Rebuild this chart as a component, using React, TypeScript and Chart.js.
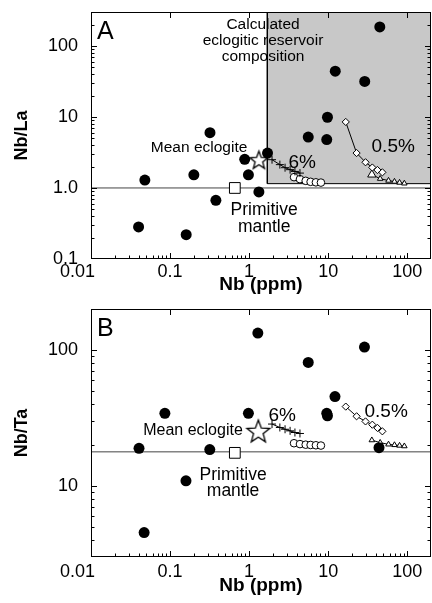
import React, { useEffect, useRef } from 'react';
import { Chart, registerables } from 'chart.js';

Chart.register(...registerables);

const FONT = "'Liberation Sans', Arial, Helvetica, sans-serif";

// Axis ranges and tick labels
const X_MIN = 0.01;
const X_MAX = 200;
const X_TICK_LABELS = ['0.01', '0.1', '1', '10', '100'];
const A_Y_MIN = 0.1;
const A_Y_MAX = 300;
const A_TICK_LABELS = ['0.1', '1.0', '10', '100'];
const B_Y_MIN = 3;
const B_Y_MAX = 200;
const B_TICK_LABELS = ['10', '100'];

// Panel A: Nb vs Nb/La
const A_SAMPLE_NB = [45, 12.3, 29, 9.8, 5.6, 9.6, 0.32, 1.71, 0.88, 0.98, 0.2, 0.048, 0.04, 0.16, 0.38, 1.33];
const A_SAMPLE_RATIO = [185, 44, 31.6, 9.9, 5.2, 4.8, 6.0, 3.1, 2.53, 1.53, 1.53, 1.29, 0.283, 0.22, 0.67, 0.88];
const A_ECLOGITE_NB = [1.33];
const A_ECLOGITE_RATIO = [2.5];
const A_PM_NB = [0.66];
const A_PM_RATIO = [1.0];
const A_PM_LINE = [1.0];
const A_6_CROSS_NB = [1.95, 2.45, 2.85, 3.3, 3.8, 4.4];
const A_6_CROSS_RATIO = [2.5, 2.13, 1.93, 1.81, 1.71, 1.62];
const A_6_CIRC_NB = [3.7, 4.4, 5.2, 6.0, 7.0, 8.1];
const A_6_CIRC_RATIO = [1.42, 1.33, 1.26, 1.22, 1.2, 1.19];
const A_05_DIAM_NB = [16.7, 22.9, 29.7, 36.2, 42, 48.5];
const A_05_DIAM_RATIO = [8.5, 3.1, 2.3, 1.94, 1.79, 1.66];
const A_05_TRI_NB = [35.7, 45.5, 58, 69, 80, 92];
const A_05_TRI_RATIO = [1.54, 1.35, 1.27, 1.23, 1.19, 1.16];
const A_BOX_NB = [1.7, 200];
const A_BOX_RATIO = [1.15, 300];

// Panel B: Nb vs Nb/Ta
const B_SAMPLE_NB = [1.29, 28.8, 5.6, 12.2, 9.6, 9.8, 0.98, 0.086, 0.0405, 0.318, 0.159, 0.047, 44];
const B_SAMPLE_RATIO = [133, 105, 81, 45.4, 34.2, 32.8, 34.2, 34.2, 18.9, 18.5, 10.9, 4.54, 19.1];
const B_ECLOGITE_NB = [1.31];
const B_ECLOGITE_RATIO = [25.4];
const B_PM_NB = [0.66];
const B_PM_RATIO = [17.5];
const B_PM_LINE = [17.8];
const B_6_CROSS_NB = [1.95, 2.45, 2.85, 3.3, 3.8, 4.4];
const B_6_CROSS_RATIO = [28.5, 26.9, 26.1, 25.4, 24.7, 24.3];
const B_6_CIRC_NB = [3.7, 4.4, 5.2, 6.0, 7.0, 8.1];
const B_6_CIRC_RATIO = [20.6, 20.3, 20.1, 20.0, 19.9, 19.8];
const B_05_DIAM_NB = [16.7, 22.9, 29.7, 36.2, 42, 48.5];
const B_05_DIAM_RATIO = [38.3, 32.5, 29.8, 28.2, 26.7, 25.2];
const B_05_TRI_NB = [35.7, 45.5, 58, 69, 80, 92];
const B_05_TRI_RATIO = [21.7, 20.8, 20.2, 20.0, 19.8, 19.6];

const zip = (xs: number[], ys: number[]) => xs.map((x, i) => ({ x, y: ys[i] }));

function makeStar(outer: number) {
  const inner = outer * 0.42;
  const size = Math.ceil(outer * 2 + 4);
  const c = document.createElement('canvas');
  c.width = size;
  c.height = size;
  const ctx = c.getContext('2d')!;
  const cx = size / 2;
  const cy = size / 2 + outer * 0.1;
  ctx.beginPath();
  for (let i = 0; i < 10; i++) {
    const r = i % 2 === 0 ? outer : inner;
    const a = -Math.PI / 2 + (i * Math.PI) / 5;
    const px = cx + r * Math.cos(a);
    const py = cy + r * Math.sin(a);
    if (i === 0) ctx.moveTo(px, py);
    else ctx.lineTo(px, py);
  }
  ctx.closePath();
  ctx.fillStyle = '#fff';
  ctx.fill();
  ctx.lineWidth = 1.3;
  ctx.strokeStyle = '#000';
  ctx.stroke();
  return c;
}

function labelFor(value: number, labels: string[]) {
  for (const l of labels) {
    const v = parseFloat(l);
    if (Math.abs(value - v) / v < 1e-6) return l === '0.01' ? '0.01\u2002\u2002\u2002' : l;
  }
  return '';
}

const framePlugin = {
  id: 'frameTicks',
  afterDatasetsDraw(chart: any) {
    const { ctx, chartArea } = chart;
    const { left, right, top, bottom } = chartArea;
    ctx.save();
    ctx.strokeStyle = '#000';
    ctx.lineWidth = 1;
    ctx.strokeRect(Math.round(left) + 0.5, Math.round(top) + 0.5, Math.round(right - left) - 1, Math.round(bottom - top) - 1);
    const drawScaleTicks = (scale: any, horizontal: boolean) => {
      for (const t of scale.ticks) {
        const v = t.value;
        if (v <= scale.min * (1 + 1e-9) || v >= scale.max * (1 - 1e-9)) continue;
        const e = Math.floor(Math.log10(v) + 1e-9);
        const m = v / Math.pow(10, e);
        if (Math.abs(m - Math.round(m)) > 1e-6) continue;
        const major = Math.round(m) === 1;
        const len = major ? 6 : 3.5;
        const p = Math.round(scale.getPixelForValue(v)) + 0.5;
        ctx.beginPath();
        if (horizontal) {
          ctx.moveTo(p, bottom);
          ctx.lineTo(p, bottom - len);
          if (major) {
            ctx.moveTo(p, top);
            ctx.lineTo(p, top + len);
          }
        } else {
          ctx.moveTo(left, p);
          ctx.lineTo(left + len, p);
          ctx.moveTo(right, p);
          ctx.lineTo(right - len, p);
        }
        ctx.stroke();
      }
    };
    drawScaleTicks(chart.scales.x, true);
    drawScaleTicks(chart.scales.y, false);
    ctx.restore();
  },
};

const notesPlugin = {
  id: 'notes',
  afterDraw(chart: any) {
    const notes = chart.options.plugins.notes;
    if (!notes) return;
    const { ctx, chartArea } = chart;
    const xs = chart.scales.x;
    const ys = chart.scales.y;
    ctx.save();
    ctx.fillStyle = '#000';
    ctx.font = `25px ${FONT}`;
    ctx.textAlign = 'left';
    ctx.textBaseline = 'alphabetic';
    ctx.fillText(notes.letter, chartArea.left + 6, chartArea.top + 27);
    ctx.textAlign = 'center';
    ctx.textBaseline = 'middle';
    for (const n of notes.items) {
      ctx.font = `${n.size}px ${FONT}`;
      const x = xs.getPixelForValue(n.x);
      const y = ys.getPixelForValue(n.y);
      n.lines.forEach((line: string, i: number) => {
        ctx.fillText(line, x, y + i * n.lh);
      });
    }
    ctx.restore();
  },
};

const zeroPad = (s: any) => {
  s.paddingLeft = 0;
  s.paddingRight = 0;
  s.paddingTop = 0;
  s.paddingBottom = 0;
};

function buildConfig(panel: any, star: HTMLCanvasElement) {
  const datasets: any[] = [
    {
      data: zip(panel.sNb, panel.sR),
      pointStyle: 'circle',
      pointRadius: 5.5,
      backgroundColor: '#000',
      borderColor: '#000',
      borderWidth: 0,
      showLine: false,
    },
    {
      data: zip(panel.eNb, panel.eR),
      pointStyle: star,
      pointRadius: 10,
      showLine: false,
    },
    {
      data: zip(panel.pmNb, panel.pmR),
      pointStyle: 'rect',
      pointRadius: 7.6,
      backgroundColor: '#fff',
      borderColor: '#000',
      borderWidth: 1,
      showLine: false,
    },
    {
      data: zip(panel.cNb, panel.cR),
      pointStyle: 'cross',
      pointRadius: 4,
      borderColor: '#000',
      borderWidth: 1,
      showLine: true,
    },
    {
      data: zip(panel.oNb, panel.oR),
      pointStyle: 'circle',
      pointRadius: 3.8,
      backgroundColor: '#fff',
      borderColor: '#000',
      borderWidth: 1,
      showLine: true,
    },
    {
      data: zip(panel.dNb, panel.dR),
      pointStyle: 'rectRot',
      pointRadius: 3.6,
      backgroundColor: '#fff',
      borderColor: '#000',
      borderWidth: 1,
      showLine: true,
    },
    {
      data: zip(panel.tNb, panel.tR),
      pointStyle: 'triangle',
      pointRadius: panel.tNb.map((_: number, i: number) => (i === 0 ? panel.bigTri : 3.2)),
      backgroundColor: '#fff',
      borderColor: '#000',
      borderWidth: 1,
      showLine: true,
    },
    {
      data: [
        { x: X_MIN, y: panel.pmLine },
        { x: X_MAX, y: panel.pmLine },
      ],
      pointRadius: 0,
      borderColor: '#444',
      borderWidth: 1,
      showLine: true,
    },
  ];
  if (panel.box) {
    datasets.push({
      data: [
        { x: panel.box.nb[0], y: panel.box.r[1] },
        { x: panel.box.nb[0], y: panel.box.r[0] },
        { x: panel.box.nb[1], y: panel.box.r[0] },
      ],
      pointRadius: 0,
      borderColor: '#000',
      borderWidth: 1,
      backgroundColor: '#c8c8c8',
      fill: 'end',
      showLine: true,
    });
  }
  return {
    type: 'scatter',
    data: { datasets },
    options: {
      animation: false,
      responsive: false,
      events: [],
      layout: { autoPadding: false, padding: { top: panel.padTop, right: 1, left: 0, bottom: 0 } },
      plugins: {
        legend: { display: false },
        tooltip: { enabled: false },
        notes: panel.notes,
      },
      scales: {
        x: {
          type: 'logarithmic',
          min: X_MIN,
          max: X_MAX,
          position: 'bottom',
          grid: { display: false, drawTicks: false },
          border: { display: false },
          ticks: {
            autoSkip: false,
            maxRotation: 0,
            minRotation: 0,
            padding: panel.xTickPad,
            color: '#000',
            font: { family: FONT, size: 18 },
            callback: (v: any) => labelFor(Number(v), X_TICK_LABELS),
          },
          title: {
            display: true,
            text: 'Nb (ppm)',
            color: '#000',
            font: { family: FONT, size: 19, weight: 'bold', lineHeight: 1 },
            padding: { top: 0, bottom: panel.xTitlePad },
          },
          afterFit: (s: any) => {
            s.height = panel.xAxisH;
            zeroPad(s);
          },
        },
        y: {
          type: 'logarithmic',
          min: panel.yMin,
          max: panel.yMax,
          position: 'left',
          grid: { display: false, drawTicks: false },
          border: { display: false },
          ticks: {
            autoSkip: false,
            padding: 13,
            color: '#000',
            font: { family: FONT, size: 18 },
            callback: (v: any) => labelFor(Number(v), panel.yLabels),
          },
          title: {
            display: true,
            text: panel.yTitle,
            color: '#000',
            font: { family: FONT, size: 18, weight: 'bold', lineHeight: 1 },
            padding: { top: 13, bottom: 0 },
          },
          afterFit: (s: any) => {
            s.width = 91;
            zeroPad(s);
          },
        },
      },
    },
    plugins: [framePlugin, notesPlugin],
  };
}

const PANEL_A = {
  sNb: A_SAMPLE_NB, sR: A_SAMPLE_RATIO,
  eNb: A_ECLOGITE_NB, eR: A_ECLOGITE_RATIO,
  pmNb: A_PM_NB, pmR: A_PM_RATIO, pmLine: A_PM_LINE[0],
  cNb: A_6_CROSS_NB, cR: A_6_CROSS_RATIO,
  oNb: A_6_CIRC_NB, oR: A_6_CIRC_RATIO,
  dNb: A_05_DIAM_NB, dR: A_05_DIAM_RATIO,
  tNb: A_05_TRI_NB, tR: A_05_TRI_RATIO,
  bigTri: 4.8,
  box: { nb: A_BOX_NB, r: A_BOX_RATIO },
  yMin: A_Y_MIN, yMax: A_Y_MAX, yLabels: A_TICK_LABELS, yTitle: 'Nb/La',
  padTop: 12, xAxisH: 41, xTickPad: 2.5, xTitlePad: 5.5,
  starR: 9.5,
  notes: {
    letter: 'A',
    items: [
      { lines: ['Calculated', 'eclogitic reservoir', 'composition'], x: 1.5, y: 198, size: 15.5, lh: 16 },
      { lines: ['Mean eclogite'], x: 0.233, y: 3.72, size: 15.5, lh: 16 },
      { lines: ['6%'], x: 4.69, y: 2.3, size: 19, lh: 19 },
      { lines: ['0.5%'], x: 66.5, y: 3.85, size: 19, lh: 19 },
      { lines: ['Primitive', 'mantle'], x: 1.55, y: 0.48, size: 17.5, lh: 17 },
    ],
  },
};

const PANEL_B = {
  sNb: B_SAMPLE_NB, sR: B_SAMPLE_RATIO,
  eNb: B_ECLOGITE_NB, eR: B_ECLOGITE_RATIO,
  pmNb: B_PM_NB, pmR: B_PM_RATIO, pmLine: B_PM_LINE[0],
  cNb: B_6_CROSS_NB, cR: B_6_CROSS_RATIO,
  oNb: B_6_CIRC_NB, oR: B_6_CIRC_RATIO,
  dNb: B_05_DIAM_NB, dR: B_05_DIAM_RATIO,
  tNb: B_05_TRI_NB, tR: B_05_TRI_RATIO,
  bigTri: 3.2,
  box: null,
  yMin: B_Y_MIN, yMax: B_Y_MAX, yLabels: B_TICK_LABELS, yTitle: 'Nb/Ta',
  padTop: 9, xAxisH: 46, xTickPad: 4, xTitlePad: 7.5,
  starR: 12,
  notes: {
    letter: 'B',
    items: [
      { lines: ['Mean eclogite'], x: 0.195, y: 25.4, size: 16, lh: 16 },
      { lines: ['6%'], x: 2.62, y: 32.7, size: 19, lh: 19 },
      { lines: ['0.5%'], x: 54.2, y: 35, size: 19, lh: 19 },
      { lines: ['Primitive', 'mantle'], x: 0.627, y: 11.9, size: 17.5, lh: 16 },
    ],
  },
};

function Panel({ panel, height, top }: { panel: any; height: number; top: number }) {
  const ref = useRef<HTMLCanvasElement>(null);
  useEffect(() => {
    if (!ref.current) return;
    const star = makeStar(panel.starR);
    const chart = new Chart(ref.current, buildConfig(panel, star) as any);
    return () => chart.destroy();
  }, [panel]);
  return (
    <canvas
      ref={ref}
      width={432}
      height={height}
      style={{ position: 'absolute', left: 0, top, width: 432, height, display: 'block' }}
    />
  );
}

export default function App() {
  return (
    <div style={{ position: 'absolute', left: 0, top: 0, width: 432, height: 603, background: '#fff' }}>
      <Panel panel={PANEL_A} height={300} top={0} />
      <Panel panel={PANEL_B} height={303} top={300} />
    </div>
  );
}
